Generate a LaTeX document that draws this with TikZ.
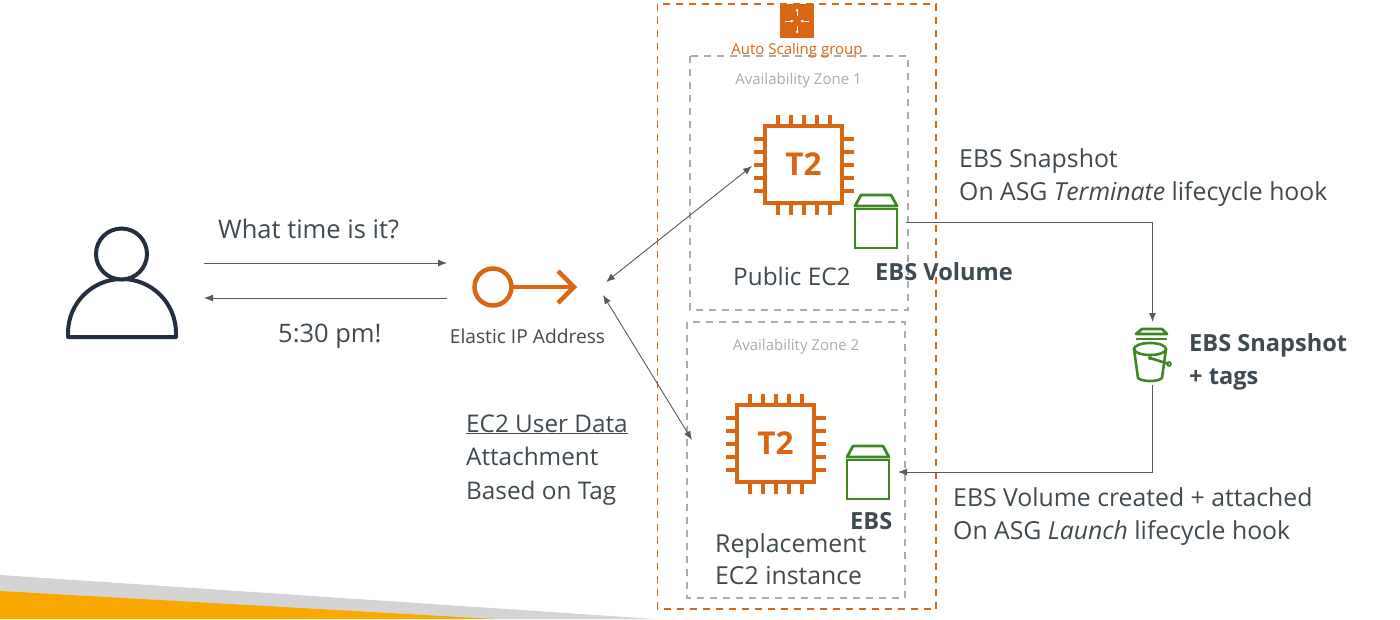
\documentclass[tikz,border=0pt]{standalone}
\usepackage{fontspec}
\setmainfont{Open Sans}
\definecolor{awsorange}{HTML}{D86613}
\definecolor{awsgreen}{HTML}{3F8624}
\definecolor{awsdark}{HTML}{232F3E}
\definecolor{bodytext}{HTML}{3F4A50}
\definecolor{linegray}{HTML}{555B60}
\definecolor{zonegray}{HTML}{ABABAB}
\definecolor{bandgray}{HTML}{D4D4D4}
\definecolor{bandyellow}{HTML}{F9A800}
\tikzset{
  big/.style={anchor=base west,inner sep=0pt,text=bodytext,font=\fontsize{24.8}{30}\selectfont},
  bigless/.style={big,font=\fontsize{24.3}{30}\selectfont},
  bigbold/.style={big,font=\fontsize{23.6}{30}\selectfont\bfseries},
  small/.style={anchor=base,inner sep=0pt,font=\fontsize{15}{22}\selectfont},
  conn/.style={draw=linegray,line width=0.9pt},
  tip/.style={-{Latex[length=9pt,width=7pt]}},
  twotip/.style={{Latex[length=9pt,width=7pt]}-{Latex[length=9pt,width=7pt]}},
  groupline/.style={line width=1.5pt,dash pattern=on 7pt off 6pt},
  chipicon/.pic={
    \draw[awsorange,line width=4.4pt] (-38.5,-38.5) rectangle (38.5,38.5);
    \foreach \d in {-26,-13,0,13,26}{
      \draw[awsorange,line width=4pt] (\d,-38.5)--(\d,-50);
      \draw[awsorange,line width=4pt] (\d,38.5)--(\d,50);
      \draw[awsorange,line width=4pt] (-38.5,\d)--(-50,\d);
      \draw[awsorange,line width=4pt] (38.5,\d)--(50,\d);
    }
    \node[inner sep=0pt,text=awsorange,font=\fontsize{31.5}{33}\selectfont\bfseries] at (0,0) {T2};
  },
  boxicon/.pic={
    \draw[awsgreen,line width=2.8pt] (0,14) rectangle (42,53);
    \draw[awsgreen,line width=2.8pt,line join=round] (0,11)--(6,0)--(36,0)--(42,11)--cycle;
  }
}
\usetikzlibrary{arrows.meta}
\begin{document}
\begin{tikzpicture}[x=1pt,y=-1pt]
  \useasboundingbox (0,0) rectangle (1400,619);
  % bottom band
  \fill[bandgray] (0,575)--(655,619)--(0,619)--cycle;
  \fill[bandyellow] (0,591)--(495,619)--(0,619)--cycle;
  % groups
  \draw[awsorange,groupline] (657.5,4) rectangle (936,609);
  \draw[zonegray,groupline] (690,56) rectangle (908,310);
  \draw[zonegray,groupline] (687,322) rectangle (905,598);
  % auto scaling icon
  \fill[awsorange] (780,4) rectangle (814,38);
  \foreach \a in {90,270}{
    \draw[white,line width=0.6pt,->,>={Latex[length=3pt,width=3pt]}] (797,21)++(\a:5)--++(\a:8);
  }
  \foreach \a in {0,180}{
    \draw[white,line width=0.6pt,<-,>={Latex[length=3pt,width=3pt]}] (797,21)++(\a:3)--++(\a:9);
  }
  \node[small,text=awsorange] (asglabel) at (797,54) {Auto Scaling group};
  \node[small,text=zonegray] (zonea) at (798.5,84) {Availability Zone 1};
  \node[small,text=zonegray] (zoneb) at (796,350) {Availability Zone 2};
  % user
  \draw[awsdark,line width=4pt,line join=round] (68,337)--(68,333) arc[start angle=180,end angle=360,radius=54]--(176,337)--cycle;
  \draw[awsdark,line width=4pt,fill=white] (121.5,254) circle[radius=25.5];
  % elastic ip
  \draw[awsorange,line width=4.5pt] (493,287) circle[radius=18.5];
  \draw[awsorange,line width=4.5pt] (511.5,287)--(573,287);
  \draw[awsorange,line width=4.5pt] (558,271)--(574,287)--(558,303);
  \node[small,text=bodytext,font=\fontsize{19.2}{22}\selectfont] (eiplabel) at (527.5,343) {Elastic IP Address};
  % instances and volumes
  \pic at (803.5,164.5) {chipicon};
  \pic at (775.5,443.5) {chipicon};
  \pic at (855,195) {boxicon};
  \pic at (847,446) {boxicon};
  % snapshot bucket
  \draw[awsgreen,line width=2.8pt,line join=round] (1136,334)--(1142,329)--(1162,329)--(1167,334)--cycle;
  \draw[awsgreen,line width=2.4pt] (1136,339)--(1167,339);
  \draw[awsgreen,line width=2.6pt] (1150,349) ellipse[x radius=16,y radius=6];
  \draw[awsgreen,line width=2.6pt,line join=round] (1134,349)--(1138,378) .. controls (1142,382) and (1158,382) .. (1162,378)--(1166,349);
  \draw[awsgreen,line width=2.6pt] (1150,358)--(1169,364);
  \fill[awsgreen] (1150,358) circle[radius=2];
  \draw[awsgreen,line width=1.6pt] (1169,364) circle[radius=2];
  % end points of the connectors
  \coordinate (useroutr) at (204,263);
  \coordinate (eipin) at (447,263);
  \coordinate (eipout) at (447,298);
  \coordinate (userin) at (204,298);
  \coordinate (eipa) at (606,282);
  \coordinate (chipa) at (752,166);
  \coordinate (eipb) at (603,295);
  \coordinate (chipb) at (692,440);
  \coordinate (vola) at (906,222);
  \coordinate (buckettop) at (1152.5,322);
  \coordinate (bucketbot) at (1152.5,385);
  \coordinate (volb) at (898,472);
  \draw[conn,tip] (useroutr)--(eipin);
  \draw[conn,tip] (eipout)--(userin);
  \draw[conn,twotip] (eipa)--(chipa);
  \draw[conn,twotip] (eipb)--(chipb);
  \draw[conn,tip] (vola)-|(buckettop);
  \draw[conn,tip] (bucketbot)|-(volb);
  % texts
  \node[big,font=\fontsize{25.5}{30}\selectfont] (asktext) at (218,238) {What time is it?};
  \node[big,font=\fontsize{25.5}{30}\selectfont] (answertext) at (278,342) {5:30 pm!};
  \node[bigless] (userdataa) at (466,432) {\underline{EC2 User Data}};
  \node[bigless] (userdatab) at (466,465) {Attachment};
  \node[bigless] (userdatac) at (466,499) {Based on Tag};
  \node[bigless] (publictext) at (733,285) {Public EC2};
  \node[bigbold] (voltext) at (875,280) {EBS Volume};
  \node[bigbold] (ebstext) at (850,529) {EBS};
  \node[big] (repla) at (715,552) {Replacement};
  \node[big] (replb) at (715,584) {EC2 instance};
  \node[big] (snapa) at (959,167) {EBS Snapshot};
  \node[big] (snapb) at (959,200) {On ASG \textit{Terminate} lifecycle hook};
  \node[bigbold] (bucketa) at (1189,351) {EBS Snapshot};
  \node[bigbold] (bucketb) at (1189,384) {+ tags};
  \node[big] (createa) at (953,506) {EBS Volume created + attached};
  \node[big] (createb) at (953,539) {On ASG \textit{Launch} lifecycle hook};
\end{tikzpicture}
\end{document}
